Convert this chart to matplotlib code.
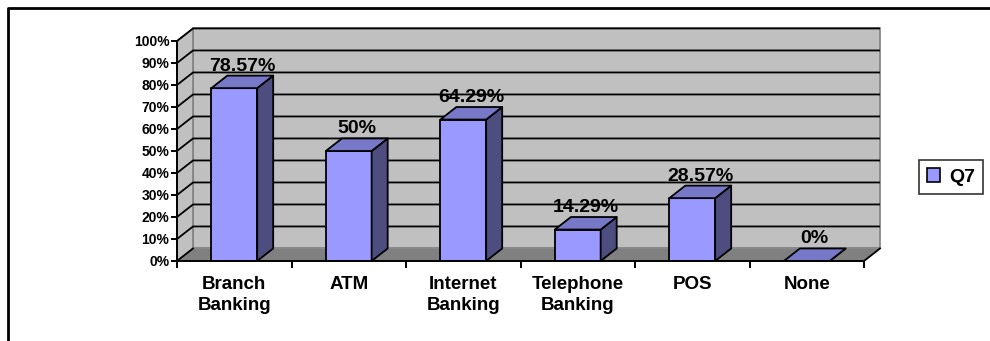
import numpy as np
import matplotlib
matplotlib.use('Agg')
import matplotlib.pyplot as plt
from matplotlib.patches import Polygon, Patch
from matplotlib.lines import Line2D

plt.rcParams['font.family'] = ['Liberation Sans', 'DejaVu Sans']
plt.rcParams['font.weight'] = 'bold'

# Q7 responses (percent of respondents)
categories = ['Branch\nBanking', 'ATM', 'Internet\nBanking', 'Telephone\nBanking', 'POS', 'None']
values = [78.57, 50, 64.29, 14.29, 28.57, 0]
value_labels = ['78.57%', '50%', '64.29%', '14.29%', '28.57%', '0%']
series_name = 'Q7'
y_ticks = np.arange(0, 101, 10)

front_col = '#9999FF'
top_col = '#7878C8'
side_col = '#4D4D80'
wall_col = '#C0C0C0'
floor_col = '#808080'

# pseudo-3D depth in data units
dx, dy = 0.14, 5.7
bar_w = 0.40

fig = plt.figure(figsize=(9.9, 3.41), dpi=100)
ax = fig.add_axes([177 / 990, (341 - 261) / 341, 687 / 990, 220 / 341])
n = len(categories)
x0, x1 = -0.5, n - 0.5
ax.set_xlim(x0, x1)
ax.set_ylim(0, 100)

# back wall and left side wall
ax.add_patch(Polygon([(x0 + dx, dy), (x1 + dx, dy), (x1 + dx, 100 + dy), (x0 + dx, 100 + dy)],
                     closed=True, facecolor=wall_col, edgecolor='#808080', lw=1.2,
                     clip_on=False, zorder=1))
ax.add_patch(Polygon([(x0, 0), (x0 + dx, dy), (x0 + dx, 100 + dy), (x0, 100)],
                     closed=True, facecolor=wall_col, edgecolor='#808080', lw=1.2,
                     clip_on=False, zorder=1))

# gridlines on the walls
for t in y_ticks[1:]:
    ax.plot([x0, x0 + dx, x1 + dx], [t, t + dy, t + dy], color='black', lw=1.3,
            clip_on=False, zorder=2, solid_capstyle='butt')

# floor
ax.add_patch(Polygon([(x0, 0), (x1, 0), (x1 + dx, dy), (x0 + dx, dy)],
                     closed=True, facecolor=floor_col, edgecolor='none',
                     clip_on=False, zorder=3))
ax.plot([x1, x1 + dx], [0, dy], color='black', lw=1.3, clip_on=False, zorder=3)
ax.plot([x0, x0 + dx], [0, dy], color='black', lw=1.3, clip_on=False, zorder=3)

# bars
for i, v in enumerate(values):
    l, r = i - bar_w / 2, i + bar_w / 2
    kw = dict(closed=True, edgecolor='black', lw=1.3, clip_on=False, zorder=4,
              joinstyle='round')
    ax.add_patch(Polygon([(l, 0), (r, 0), (r, v), (l, v)], facecolor=front_col, **kw))
    ax.add_patch(Polygon([(r, 0), (r + dx, dy), (r + dx, v + dy), (r, v)],
                         facecolor=side_col, **kw))
    ax.add_patch(Polygon([(l, v), (r, v), (r + dx, v + dy), (l + dx, v + dy)],
                         facecolor=top_col, **kw))
    ax.text(i + dx / 2, v + dy + 2.3, value_labels[i], ha='center', va='baseline',
            fontsize=14, fontweight='bold', zorder=6)

# axes styling
for s in ['top', 'right']:
    ax.spines[s].set_visible(False)
for s in ['left', 'bottom']:
    ax.spines[s].set_linewidth(1.4)
    ax.spines[s].set_zorder(5)
ax.set_facecolor('none')

ax.set_yticks(y_ticks)
ax.set_yticklabels([f'{t}%' for t in y_ticks])
ax.tick_params(axis='y', direction='out', length=4, width=1.4, pad=1.5, labelsize=10)

ax.set_xticks(np.arange(n))
ax.set_xticklabels(categories)
for lbl in ax.get_xticklabels():
    lbl.set_linespacing(1.25)
ax.set_xticks(np.arange(n + 1) - 0.5, minor=True)
ax.tick_params(axis='x', which='major', length=0, pad=11, labelsize=13.5)
ax.tick_params(axis='x', which='minor', direction='out', length=5, width=1.4)

# legend
leg = fig.legend(handles=[Patch(facecolor=front_col, edgecolor='black', lw=1.2)],
                 labels=[series_name], loc='center left',
                 bbox_to_anchor=(919 / 990, 1 - 177 / 341), borderaxespad=0,
                 fancybox=False, frameon=True, edgecolor='black',
                 handlelength=0.7, handleheight=0.7, handletextpad=0.45,
                 borderpad=0.4, prop={'weight': 'bold', 'size': 14})
leg.get_frame().set_linewidth(1.2)

# outer chart frame (top and left edges)
fig.add_artist(Line2D([8 / 990, 8 / 990, 1], [0, 1 - 8 / 341, 1 - 8 / 341],
                      color='black', lw=2, transform=fig.transFigure))

fig.savefig('out.png', dpi=100)
